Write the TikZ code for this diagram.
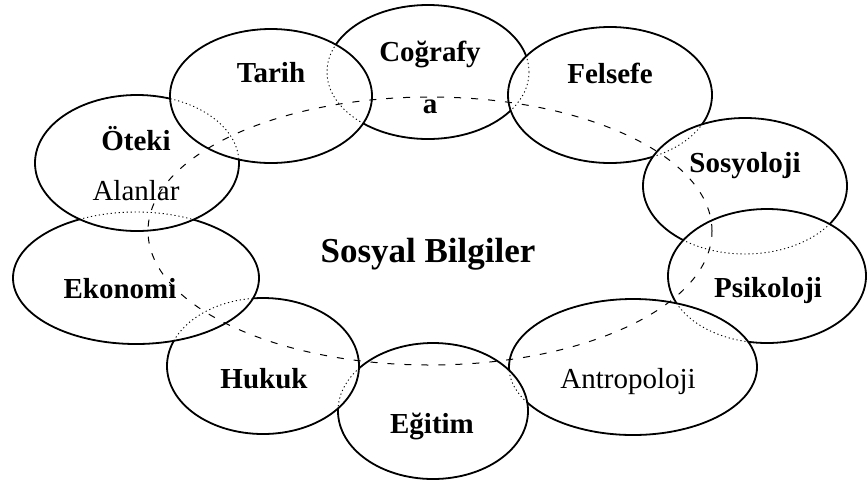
\documentclass[tikz,border=0pt]{standalone}
\usepackage{fontspec}
\setmainfont{Liberation Serif}
\usetikzlibrary{shapes.geometric}

\tikzset{
  oval/.style={ellipse, draw, fill=white, line width=1.8pt, inner sep=0pt},
  hidden/.style={line width=0.9pt, dash pattern=on 1.2pt off 2.8pt},
  ring/.style={ellipse, draw, line width=1pt, dash pattern=on 7pt off 10pt, inner sep=0pt},
  lbl/.style={anchor=base, inner sep=0pt, font=\fontsize{29}{34}\selectfont\bfseries},
  plain/.style={font=\fontsize{29}{34}\selectfont},
}
\def\ovals{cog/428/72/101/67, fel/610/95/102/68, sos/745/186/102/68,
  psi/767/276/99/67, ant/633/367/124/68, egi/433/411/95/68,
  huk/263/366/96/68, eko/136/278/123/66, ote/137/163/102/68, tar/271/96/101/67}

\begin{document}
\begin{tikzpicture}[x=1pt, y=-1pt]
  \useasboundingbox (0,0) rectangle (867,483);
  \foreach \nm/\x/\y/\rx/\ry in \ovals
    \node[oval, minimum width=2*\rx pt, minimum height=2*\ry pt] (\nm) at (\x,\y) {};
  % hidden edges
  \foreach \nm/\x/\y/\rx/\ry in \ovals
    \draw[hidden] (\nm.center) ellipse [x radius=\rx pt, y radius=\ry pt];
  \node[ring, minimum width=564pt, minimum height=268pt] (sb) at (430,231) {};

  \node[lbl] (tarT) at (271,82) {Tarih};
  \node[lbl] (cogT) at (430,61) {Coğrafy};
  \node[lbl] (cogT2) at (430,113) {a};
  \node[lbl] (felT) at (610,83) {Felsefe};
  \node[lbl] (sosT) at (745,172) {Sosyoloji};
  \node[lbl] (psiT) at (768,297) {Psikoloji};
  \node[lbl, plain] (antT) at (628,388) {Antropoloji};
  \node[lbl] (egiT) at (432,433) {Eğitim};
  \node[lbl] (hukT) at (264,388) {Hukuk};
  \node[lbl] (ekoT) at (120,298) {Ekonomi};
  \node[lbl] (oteT) at (136,150) {Öteki};
  \node[lbl, plain] (alaT) at (136,200) {Alanlar};
  \node[lbl, font=\fontsize{35}{40}\selectfont\bfseries] (sbT) at (428,262) {Sosyal Bilgiler};
\end{tikzpicture}
\end{document}
